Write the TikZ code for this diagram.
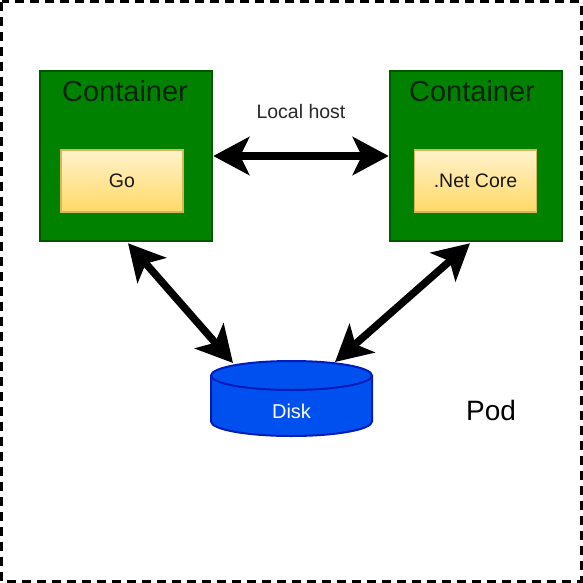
\documentclass[tikz,border=0pt]{standalone}
\usepackage{fontspec}
\setmainfont{Liberation Sans}
\usepackage{tikz}
\usetikzlibrary{arrows.meta, positioning, calc}
\definecolor{podgreen}{RGB}{0,130,0}
\definecolor{podgreendark}{RGB}{0,87,0}
\definecolor{titledark}{RGB}{12,36,12}
\definecolor{apptop}{RGB}{255,242,204}
\definecolor{appbottom}{RGB}{255,217,102}
\definecolor{appedge}{RGB}{214,182,86}
\definecolor{diskblue}{RGB}{0,80,239}
\definecolor{diskedge}{RGB}{0,29,188}
\definecolor{labelgray}{RGB}{40,40,40}
\tikzset{
  container/.style={rectangle, draw=podgreendark, fill=podgreen,
    minimum width=172pt, minimum height=170pt, line width=2.5pt, inner sep=0pt},
  ctitle/.style={anchor=base, text=titledark, font=\fontsize{29}{34}\selectfont},
  appbox/.style={rectangle, draw=appedge, top color=apptop, bottom color=appbottom,
    minimum width=122pt, minimum height=62pt, line width=1.5pt,
    text=black!90, font=\fontsize{19.5}{22}\selectfont},
  biarrow/.style={{Stealth[length=36pt, width=38pt, inset=9pt]}-{Stealth[length=36pt, width=38pt, inset=9pt]},
    line width=7.5pt, color=black},
  diskline/.style={draw=diskedge, fill=diskblue, line width=2pt}
}

\begin{document}
\begin{tikzpicture}[x=1pt, y=-1pt]
  \useasboundingbox (0,0) rectangle (583,583);

  % Pod border
  \draw[line width=3pt, dash pattern=on 9pt off 6pt] (1.7,1.7) rectangle (581,581);

  % Containers
  \node[container] (goCtr) at (126,156) {};
  \node[container] (netCtr) at (476,156) {};
  \node[ctitle] (goTitle) at (125,102) {Container};
  \node[ctitle] (netTitle) at (472,102) {Container};

  % Apps
  \node[appbox] (go) at (122,181) {Go};
  \node[appbox] (net) at (475.5,181) {.Net Core};

  % Disk
  \path[diskline] (211,375.5) -- (211,421.5)
    arc[start angle=180, end angle=0, x radius=80.5, y radius=14.5] -- (372,375.5);
  \draw[diskline] (291.5,375.5) ellipse [x radius=80.5, y radius=14.5];
  \node[text=white, font=\fontsize{20}{24}\selectfont, anchor=base] (disk) at (291.5,418) {Disk};
  \coordinate (diskL) at (233,363);
  \coordinate (diskR) at (335,362);

  % Connections
  \draw[biarrow] (goCtr.east) -- (netCtr.west);
  \draw[biarrow] ($(goCtr.south)+(2,1)$) -- (diskL);
  \draw[biarrow] ($(netCtr.south)+(-6,1)$) -- (diskR);

  % Labels
  \node[anchor=base, text=labelgray, font=\fontsize{19.5}{23}\selectfont] (lhost) at (301,118) {Local host};
  \node[anchor=base, font=\fontsize{28}{33}\selectfont] (pod) at (491,420) {Pod};
\end{tikzpicture}
\end{document}
